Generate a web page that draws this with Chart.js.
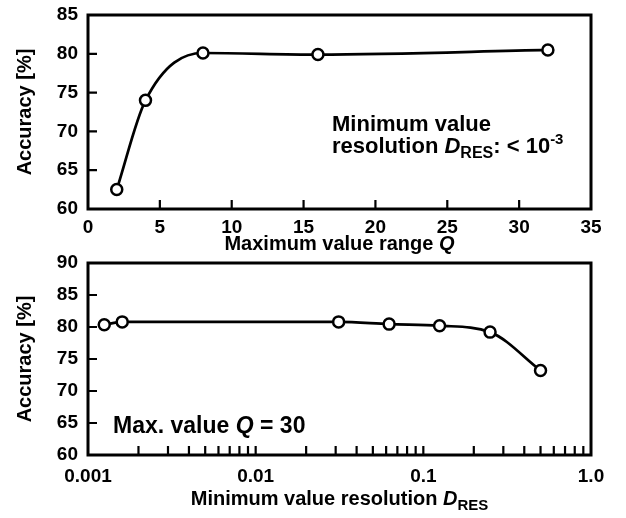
<!DOCTYPE html>
<html><head><meta charset="utf-8">
<script src="https://cdn.jsdelivr.net/npm/chart.js@4/dist/chart.umd.min.js"></script>
<style>
html,body{margin:0;padding:0;background:#fff;}
#wrap{position:relative;width:626px;height:518px;overflow:hidden;background:#fff;font-family:"Liberation Sans",Arial,Helvetica,sans-serif;font-weight:bold;color:#000;}
canvas{position:absolute;left:0;}
.t{position:absolute;white-space:nowrap;}
.sub{position:relative;}
.sup{position:relative;}
</style></head><body>
<div id="wrap">
<canvas id="c1" width="626" height="245" style="top:0px;width:626px;height:245px"></canvas>
<canvas id="c2" width="626" height="273" style="top:245px;width:626px;height:273px"></canvas>
<div class="t" style="left:88px;width:503px;text-align:center;top:233px;font-size:20px;line-height:20px;">Maximum value range <i>Q</i></div>
<div class="t" style="left:88px;width:503px;text-align:center;top:488px;font-size:20px;line-height:20px;">Minimum value resolution <i>D</i><span class="sub" style="font-size:15px;top:5px;">RES</span></div>
<div class="t" style="left:332px;top:112.6px;font-size:22px;line-height:22px;">Minimum value<br>resolution <i>D</i><span class="sub" style="font-size:16px;top:5px;">RES</span>: &lt; 10<span class="sup" style="font-size:15px;top:-9px;">-3</span></div>
<div class="t" style="left:113px;top:413.8px;font-size:23px;line-height:23px;">Max. value <i>Q</i> = 30</div>
</div>
<script>
// ---- data ----
const topQ   = [2, 4, 8, 16, 32];
const topAcc = [62.5, 74.0, 80.1, 79.9, 80.5];
const botRes = [0.00125, 0.0016, 0.03125, 0.0625, 0.125, 0.25, 0.5];
const botAcc = [80.35, 80.8, 80.8, 80.45, 80.2, 79.2, 73.2];
const topXRange = [0, 35];
const topYRange = [60, 85];
const botXRange = [0.001, 1.0];
const botYRange = [60, 90];
const tickStep = 5;
const botXLabelValues = [0.001, 0.01, 0.1, 1.0];
const botXLabels = ['0.001', '0.01', '0.1', '1.0'];
const yTitle = 'Accuracy [%]';

Chart.defaults.font.family = '"Liberation Sans", Arial, Helvetica, sans-serif';
Chart.defaults.font.weight = 'bold';
Chart.defaults.color = '#000';

const frameTicks = {
  id: 'frameTicks',
  beforeDatasetsDraw(chart, args, opts) {
    const {ctx, chartArea: a, scales: {x, y}} = chart;
    ctx.save();
    ctx.strokeStyle = '#000';
    ctx.lineWidth = 2.2;
    ctx.lineCap = 'butt';
    ctx.beginPath();
    x.ticks.forEach(t => {
      const px = x.getPixelForValue(t.value);
      if (px <= a.left + 1 || px >= a.right - 1) return;
      ctx.moveTo(px, a.bottom); ctx.lineTo(px, a.bottom - opts.len);
    });
    y.ticks.forEach(t => {
      const py = y.getPixelForValue(t.value);
      if (py <= a.top + 1 || py >= a.bottom - 1) return;
      ctx.moveTo(a.left, py); ctx.lineTo(a.left + opts.len, py);
    });
    ctx.stroke();
    ctx.lineWidth = 3;
    ctx.strokeRect(a.left, a.top, a.right - a.left, a.bottom - a.top);
    ctx.restore();
  }
};

function ds(xs, ys) {
  return {
    data: xs.map((v, i) => ({x: v, y: ys[i]})),
    borderColor: '#000',
    borderWidth: 2.7,
    pointRadius: 5.5,
    pointBorderWidth: 2.5,
    pointBackgroundColor: '#fff',
    pointBorderColor: '#000',
    cubicInterpolationMode: 'monotone',
    fill: false,
    clip: false
  };
}

function yScale(range) {
  return {
    min: range[0], max: range[1],
    grid: {display: false, drawTicks: true, tickLength: 10},
    border: {display: false},
    ticks: {stepSize: tickStep, padding: 0, font: {size: 19, weight: 'bold'}},
    title: {display: true, text: yTitle, font: {size: 20, weight: 'bold'}, padding: {top: 13, bottom: 0}},
    afterFit(s) { s.width = 88; }
  };
}

new Chart(document.getElementById('c1'), {
  type: 'line',
  data: {datasets: [ds(topQ, topAcc)]},
  options: {
    responsive: false, animation: false, devicePixelRatio: 1,
    layout: {padding: {top: 15, right: 35, left: 0, bottom: 0}},
    plugins: {legend: {display: false}, tooltip: {enabled: false}, frameTicks: {len: 9}},
    scales: {
      x: {
        type: 'linear', min: topXRange[0], max: topXRange[1],
        grid: {display: false, drawTicks: true, tickLength: 7},
        border: {display: false},
        ticks: {stepSize: tickStep, padding: 0, maxRotation: 0, font: {size: 19, weight: 'bold'}},
        afterFit(s) { s.height = 245 - 209; }
      },
      y: yScale(topYRange)
    }
  },
  plugins: [frameTicks]
});

new Chart(document.getElementById('c2'), {
  type: 'line',
  data: {datasets: [ds(botRes, botAcc)]},
  options: {
    responsive: false, animation: false, devicePixelRatio: 1,
    layout: {padding: {top: 18, right: 35, left: 0, bottom: 0}},
    plugins: {legend: {display: false}, tooltip: {enabled: false}, frameTicks: {len: 9}},
    scales: {
      x: {
        type: 'logarithmic', min: botXRange[0], max: botXRange[1],
        grid: {display: false, drawTicks: true, tickLength: 10},
        border: {display: false},
        afterBuildTicks(s) {
          s.ticks = s.ticks.filter(t => {
            const e = Math.floor(Math.log10(t.value) + 1e-9);
            const m = t.value / Math.pow(10, e);
            return Math.abs(m - Math.round(m)) < 1e-6;
          });
        },
        ticks: {
          autoSkip: false, maxRotation: 0, padding: 0, font: {size: 19, weight: 'bold'},
          callback(v) {
            const i = botXLabelValues.findIndex(m => Math.abs(m - v) / m < 1e-6);
            return i >= 0 ? botXLabels[i] : '';
          }
        },
        afterFit(s) { s.height = 273 - 210; }
      },
      y: yScale(botYRange)
    }
  },
  plugins: [frameTicks]
});
</script>
</body></html>
